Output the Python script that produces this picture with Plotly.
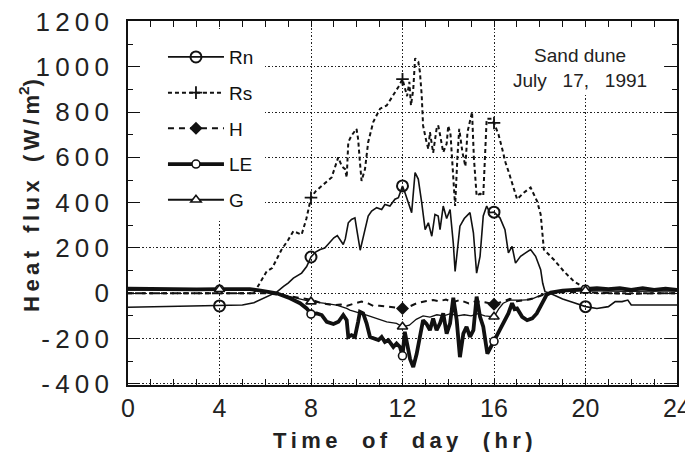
import plotly.graph_objects as go

# ---------------- data ----------------
x_tick_vals = [0, 4, 8, 12, 16, 20, 24]
x_tick_labels = ["0", "4", "8", "12", "16", "20", "24"]
y_tick_vals = [-400, -200, 0, 200, 400, 600, 800, 1000, 1200]
y_tick_labels = ["-400", "-200", "0", "200", "400", "600", "800", "1000", "1200"]

marker_hours = [4, 8, 12, 16, 20]
rs_marker_hours = [8, 12, 16]
h_marker_hours = [12, 16]

# Net radiation Rn
rn_t = [0, 1, 2, 3, 4, 4.5, 5.0, 5.5, 6.0, 6.5, 6.8, 7.0, 7.23, 7.4, 7.59, 7.81, 8,
        8.2, 8.4, 8.6, 8.83, 9.0, 9.15, 9.3, 9.41, 9.5, 9.63, 9.77, 9.92, 10.02, 10.15,
        10.36, 10.5, 10.65, 10.87, 11.09, 11.23, 11.45, 11.67, 11.82, 12,
        12.12, 12.25, 12.4, 12.55, 12.69, 12.84, 12.99, 13.13, 13.28, 13.42, 13.56,
        13.64, 13.78, 13.93, 14.08, 14.22, 14.3, 14.51, 14.7, 14.95, 15.1, 15.24,
        15.39, 15.53, 15.68, 15.82, 16, 16.26, 16.48, 16.63, 16.79, 16.94, 17.16,
        17.38, 17.6, 17.82, 17.95, 18.04, 18.13, 18.23, 18.45, 19.0, 19.5, 20,
        20.5, 21.0, 21.3, 21.6, 21.85, 22.0, 23.0, 24]
rn_v = [-62, -60, -58, -57, -56, -55, -52, -42, -18, 5, 30, 45, 67, 78, 89, 118, 160,
        182, 193, 200, 225, 245, 255, 235, 215, 240, 311, 326, 333, 270, 190,
        281, 341, 363, 378, 370, 392, 385, 415, 422, 474,
        440, 400, 356, 533, 504, 400, 281, 311, 252, 348, 341,
        281, 385, 330, 370, 222, 96, 296, 330, 356, 267, 89,
        163, 341, 385, 356, 358, 333, 281, 178, 207, 133, 163,
        178, 193, 163, 130, 104, 44, 7, 0, -25, -42, -59,
        -67, -59, -37, -37, -30, -52, -52, -52]

# Solar radiation Rs
rs_t = [0, 2, 4, 5.5, 5.63, 6.06, 6.3, 6.71, 7.0, 7.23, 7.59, 7.8, 8, 8.2, 8.47,
        8.9, 9.19, 9.35, 9.49, 9.56, 9.63, 9.77, 9.99, 10.06, 10.14, 10.21, 10.36,
        10.5, 10.72, 11.02, 11.31, 11.6, 11.82, 12, 12.1, 12.2, 12.3, 12.37, 12.47,
        12.55, 12.69, 12.76, 12.84, 12.9, 13.05, 13.13, 13.2, 13.34, 13.49, 13.56,
        13.64, 13.78, 13.93, 14.0, 14.1, 14.2, 14.3, 14.4, 14.48, 14.62, 14.75,
        14.84, 15.04, 15.12, 15.24, 15.39, 15.53, 15.68, 15.9, 16, 16.2, 16.36,
        16.5, 16.65, 16.79, 17.01, 17.3, 17.6, 17.89, 18.04, 18.18, 18.62, 19.06,
        19.5, 20, 20.3, 20.5, 22, 24]
rs_v = [0, 0, 0, 0, 22, 96, 111, 192, 235, 274, 259, 330, 422, 450, 474,
        511, 600, 560, 548, 511, 667, 696, 726, 681, 578, 496, 548,
        667, 756, 815, 829, 874, 911, 945, 903, 870, 933, 829, 900,
        1037, 1022, 978, 874, 740, 667, 637, 711, 620, 726, 741,
        700, 622, 660, 740, 700, 520, 385, 600, 726, 622, 560,
        711, 800, 600, 430, 440, 430, 770, 770, 752, 700, 637,
        578, 533, 489, 415, 444, 467, 405, 348, 193, 148, 96,
        52, 22, 5, 0, 0, 0]

# Sensible heat H
h_t = [0, 2, 4, 6.0, 6.5, 7.08, 7.5, 8, 8.5, 8.98, 9.3, 9.56, 9.9, 10.21, 10.5,
       10.72, 11.0, 11.31, 11.6, 12, 12.3, 12.6, 13.0, 13.34, 13.6, 13.9, 14.2,
       14.5, 14.9, 15.2, 15.6, 16, 16.3, 16.7, 17.0, 17.4, 17.8, 18.2, 18.5,
       19.0, 20, 21, 22, 23, 24]
h_v = [0, 0, 0, 0, -5, -15, -20, -28, -45, -52, -50, -56, -45, -37, -45,
       -56, -55, -59, -62, -67, -59, -45, -35, -30, -35, -28, -40,
       -30, -45, -35, -40, -48, -40, -25, -35, -30, -20, -5, 0,
       5, 5, 0, -3, 0, 0]

# Latent heat LE
le_t = [0, 1, 2, 3, 4, 5, 5.33, 5.8, 6.2, 6.5, 7.08, 7.52, 7.81, 8, 8.25, 8.47,
        8.69, 8.98, 9.2, 9.41, 9.56, 9.63, 9.77, 9.92, 10.06, 10.14, 10.28, 10.43,
        10.58, 10.8, 10.95, 11.09, 11.23, 11.38, 11.6, 11.74, 11.89, 12,
        12.1, 12.2, 12.33, 12.47, 12.62, 12.76, 12.9, 13.05, 13.2, 13.34, 13.49,
        13.64, 13.78, 13.93, 14.08, 14.22, 14.37, 14.51, 14.66, 14.8, 14.95,
        15.1, 15.24, 15.39, 15.53, 15.71, 15.86, 16, 16.26, 16.48, 16.63, 16.79,
        16.9, 17.01, 17.23, 17.45, 17.67, 17.87, 18.1, 18.3, 18.48, 19.0, 19.5,
        20, 20.5, 21.0, 21.5, 22.0, 22.5, 23.0, 23.5, 24]
le_v = [20, 18, 20, 17, 18, 20, 18, 12, 3, 0, -22, -44, -67, -92, -89, -96,
        -126, -136, -126, -96, -119, -193, -185, -193, -126, -82, -89, -133,
        -193, -200, -207, -193, -215, -207, -237, -222, -237, -276,
        -170, -222, -290, -326, -267, -193, -119, -135, -163, -111, -163,
        -133, -89, -178, -133, -20, -119, -282, -178, -148, -193,
        -163, -15, -104, -148, -267, -237, -212, -163, -119, -89, -44,
        -70, -67, -104, -119, -111, -89, -44, -7, 3, 12, 15,
        18, 22, 18, 22, 15, 22, 15, 20, 15]

# Soil heat G
g_t = [0, 1, 2, 3, 4, 5, 6.0, 6.4, 6.79, 7.38, 8, 8.54, 9.12, 9.56, 9.7, 10.43,
       11.16, 11.31, 11.74, 12, 12.3, 12.6, 12.9, 13.2, 13.5, 13.8, 14.1, 14.4,
       14.7, 15.0, 15.3, 15.6, 16, 16.2, 16.4, 16.7, 17.2, 17.6, 17.9, 18.2,
       18.45, 19.0, 19.5, 20, 21, 22, 23, 24]
g_v = [14, 15, 14, 15, 18, 15, 10, 2, -7, -22, -37, -44, -52, -67, -74, -96,
       -119, -126, -133, -148, -141, -115, -100, -105, -95, -100, -90, -100,
       -95, -100, -90, -100, -104, -70, -44, -30, -30, -28, -15, -3,
       0, 8, 10, 12, 10, 8, 10, 10]


def marks(ts, vs, hours):
    return [vs[ts.index(h)] for h in hours]


TS = "\u2009"   # thin space, imitates the wide letter spacing of the original


def spaced(s):
    return TS.join(s)


def spaced_words(words, gap="   "):
    return gap.join(spaced(w) for w in words)


INK = "#111111"
FONT = "Liberation Sans, Arial, sans-serif"

series = [
    dict(name="Rn", t=rn_t, v=rn_v, mh=marker_hours, width=1.6, dash="solid",
         marker=dict(symbol="circle-open", size=11, line=dict(width=2, color=INK), color=INK)),
    dict(name="Rs", t=rs_t, v=rs_v, mh=rs_marker_hours, width=2.0, dash="4px,3px",
         marker=dict(symbol="cross-thin-open", size=9, line=dict(width=1.8, color=INK), color=INK)),
    dict(name="H", t=h_t, v=h_v, mh=h_marker_hours, width=2.0, dash="6px,5px",
         marker=dict(symbol="diamond", size=10, color=INK, line=dict(width=0))),
    dict(name="LE", t=le_t, v=le_v, mh=marker_hours, width=3.8, dash="solid",
         marker=dict(symbol="circle", size=8, color="white", line=dict(width=1.6, color=INK))),
    dict(name="G", t=g_t, v=g_v, mh=marker_hours, width=1.3, dash="solid",
         marker=dict(symbol="triangle-up", size=9, color="white", line=dict(width=1.6, color=INK))),
]

fig = go.Figure()

for s in series:
    fig.add_trace(go.Scatter(
        x=s["t"], y=s["v"], mode="lines",
        line=dict(color=INK, width=s["width"], dash=s["dash"]),
        showlegend=False, hoverinfo="skip"))
for s in series:
    fig.add_trace(go.Scatter(
        x=s["mh"], y=marks(s["t"], s["v"], s["mh"]), mode="markers",
        marker=s["marker"], showlegend=False, hoverinfo="skip"))
for s in series:
    fig.add_trace(go.Scatter(
        x=[None], y=[None], mode="lines+markers", name=s["name"],
        legendgroup=s["name"],
        line=dict(color=INK, width=max(s["width"], 1.8), dash=s["dash"]),
        marker=s["marker"]))

axis_common = dict(
    showline=True, linecolor=INK, linewidth=1.6, mirror="ticks",
    ticks="inside", tickcolor=INK, tickwidth=1.4, automargin=False,
    showgrid=True, gridcolor="#222222", gridwidth=1.4, griddash="1.5px,2px",
    zeroline=False, ticklabeloverflow="allow",
)

fig.update_xaxes(
    **axis_common, range=[0, 24], tickmode="array",
    tickvals=x_tick_vals, ticktext=x_tick_labels, ticklen=6,
    tickfont=dict(family=FONT, size=25, color="#222222"),
    minor=dict(tickmode="linear", tick0=0, dtick=1, ticks="inside", ticklen=6,
               tickcolor=INK, tickwidth=1.3, showgrid=False),
)
fig.update_yaxes(
    **axis_common, range=[-405, 1202], tickmode="array",
    tickvals=y_tick_vals, ticktext=[spaced(t) for t in y_tick_labels], ticklen=12,
    ticklabelstandoff=12,
    tickfont=dict(family=FONT, size=26, color="#222222"),
    minor=dict(tickmode="linear", tick0=0, dtick=100, ticks="inside", ticklen=5,
               tickcolor=INK, tickwidth=1.3, showgrid=False),
)

# white panels behind the key and the site label (they hide the grid there)
fig.add_shape(type="rect", xref="paper", yref="paper", x0=0.0255, x1=0.2495,
              y0=0.453, y1=0.978, fillcolor="white", line=dict(width=0), layer="above")
fig.add_shape(type="rect", xref="paper", yref="paper", x0=0.672, x1=0.9745,
              y0=0.802, y1=0.981, fillcolor="white", line=dict(width=0), layer="above")

fig.update_layout(
    width=685, height=444,
    margin=dict(l=120, r=16, t=13, b=67, autoexpand=False),
    paper_bgcolor="white", plot_bgcolor="white",
    font=dict(family=FONT, color=INK),
    showlegend=True,
    legend=dict(x=0.0637, y=0.953, xanchor="left", yanchor="top",
                bgcolor="rgba(255,255,255,0)", borderwidth=0,
                font=dict(family=FONT, size=19, color=INK),
                itemwidth=56, traceorder="grouped", tracegroupgap=8),
    annotations=[
        dict(text="Sand dune<br>July" + "   " + "17," + "   " + "1991", x=19.75, y=993,
             xref="x", yref="y", xanchor="center",
             showarrow=False, font=dict(family=FONT, size=19, color="#222222"),
             align="center"),
        dict(text="<b>" + spaced_words(["Heat", "flux"]) + "   " + spaced("(W/m") + "<sup>2</sup>)</b>",
             x=-0.18, y=0.52, xref="paper", yref="paper", textangle=-90,
             xanchor="center", yanchor="middle",
             showarrow=False, font=dict(family=FONT, size=22, color="#222222")),
        dict(text="<b>" + spaced_words(["Time", "of", "day", "(hr)"], "    ") + "</b>",
             x=0.5, y=-0.152, xref="paper", yref="paper", xanchor="center", yanchor="middle",
             showarrow=False, font=dict(family=FONT, size=22, color="#222222")),
    ],
)

fig.write_html("out.html")
